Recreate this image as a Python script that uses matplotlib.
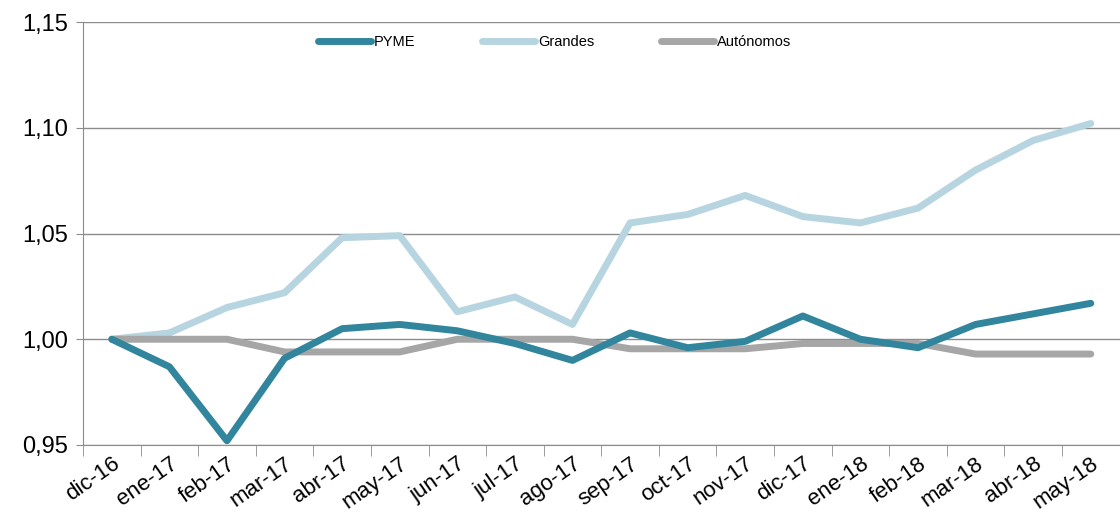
import matplotlib.pyplot as plt
from matplotlib.ticker import FuncFormatter, FixedLocator

months = ["dic-16", "ene-17", "feb-17", "mar-17", "abr-17", "may-17", "jun-17",
          "jul-17", "ago-17", "sep-17", "oct-17", "nov-17", "dic-17", "ene-18",
          "feb-18", "mar-18", "abr-18", "may-18"]
pyme = [1.000, 0.987, 0.952, 0.991, 1.005, 1.007, 1.004, 0.998, 0.990, 1.003,
        0.996, 0.999, 1.011, 1.000, 0.996, 1.007, 1.012, 1.017]
grandes = [1.000, 1.003, 1.015, 1.022, 1.048, 1.049, 1.013, 1.020, 1.007, 1.055,
           1.059, 1.068, 1.058, 1.055, 1.062, 1.080, 1.094, 1.102]
autonomos = [1.000, 1.000, 1.000, 0.994, 0.994, 0.994, 1.000, 1.000, 1.000, 0.9955,
             0.9955, 0.9955, 0.998, 0.998, 0.998, 0.993, 0.993, 0.993]

plt.rcParams['font.family'] = ['Liberation Sans', 'DejaVu Sans']

fig = plt.figure(figsize=(11.2, 5.29), dpi=100)
ax = fig.add_axes([0.0741, 0.1588, 0.9255, 0.7996])

x = list(range(len(months)))
ax.plot(x, pyme, color="#31859C", lw=5, label="PYME", solid_capstyle="round", zorder=4)
ax.plot(x, grandes, color="#B7D5E0", lw=5, label="Grandes", solid_capstyle="round", zorder=3)
ax.plot(x, autonomos, color="#A6A6A6", lw=5, label="Autónomos", solid_capstyle="round", zorder=3)

ax.set_xlim(-0.5, len(months) - 0.5)
ax.set_ylim(0.95, 1.15)
ax.set_yticks([0.95, 1.00, 1.05, 1.10, 1.15])
ax.yaxis.set_major_formatter(FuncFormatter(lambda v, p: f"{v:.2f}".replace(".", ",")))
ax.grid(axis="y", color="#8C8C8C", lw=1)
ax.set_axisbelow(True)

ax.set_xticks(x)
ax.set_xticklabels(months, rotation=35, ha="right", rotation_mode="anchor", fontsize=16)
ax.xaxis.set_minor_locator(FixedLocator([i - 0.5 for i in range(len(months) + 1)]))
ax.tick_params(axis="x", which="major", length=0, pad=6)
ax.tick_params(axis="x", which="minor", length=8, color="#8C8C8C")
ax.tick_params(axis="y", length=5, color="#8C8C8C", labelsize=17, pad=6)

for s in ["top", "right"]:
    ax.spines[s].set_visible(False)
for s in ["left", "bottom"]:
    ax.spines[s].set_color("#8C8C8C")

ax.legend(loc="upper center", bbox_to_anchor=(0.455, 1.0), ncol=3, frameon=False,
          fontsize=10.5, handlelength=3.6, columnspacing=4.6, handletextpad=0.2)

fig.savefig("out.png", dpi=100)
